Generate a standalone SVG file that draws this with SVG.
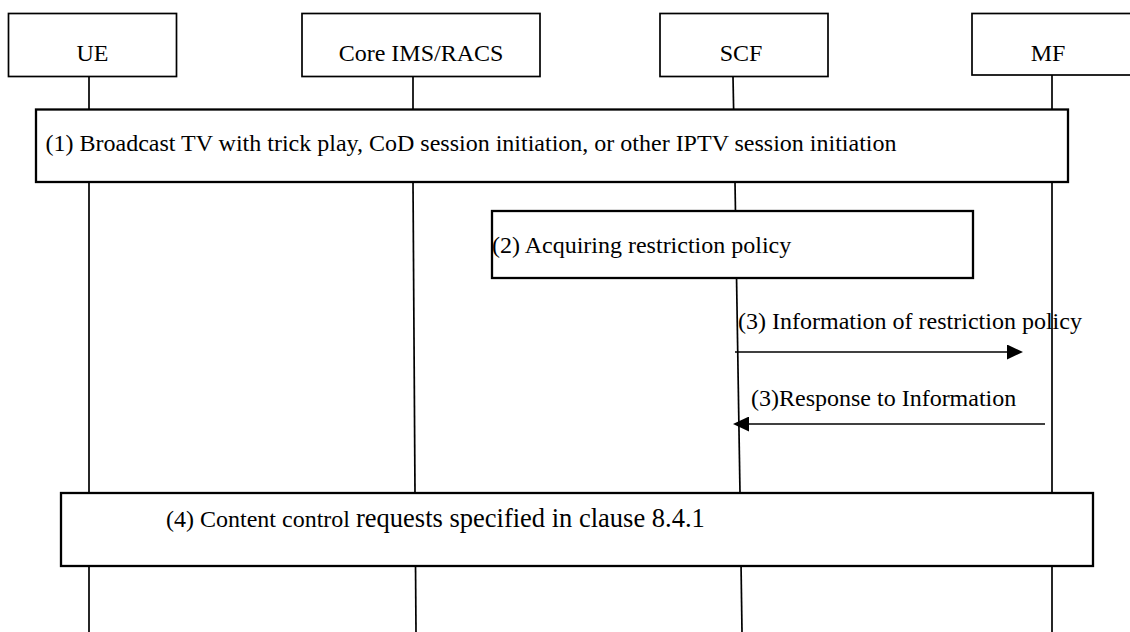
<svg xmlns="http://www.w3.org/2000/svg" width="1130" height="632" viewBox="0 0 1130 632">
  <style>
    text { font-family: "Liberation Serif", "Times New Roman", serif; font-size: 24px; fill: #000; }
    .hdr { fill: #fff; stroke: #000; stroke-width: 1.7; }
    .step { fill: #fff; stroke: #000; stroke-width: 2.3; }
    .life { stroke: #000; stroke-width: 1.7; fill: none; }
    .msg { stroke: #000; stroke-width: 1.7; fill: none; marker-end: url(#arr); }
    .mid { text-anchor: middle; }
  </style>
  <defs>
    <marker id="arr" markerUnits="userSpaceOnUse" markerWidth="16" markerHeight="15" refX="3" refY="7.5" orient="auto">
      <path d="M0,0 L16,7.5 L0,15 Z" fill="#000"/>
    </marker>
  </defs>
  <rect width="1130" height="632" fill="#fff"/>

  <g id="connectors">
    <!-- lifelines -->
    <line class="life" x1="89" y1="77" x2="89" y2="632"/>
    <line class="life" x1="413" y1="77" x2="413" y2="182"/>
    <line class="life" x1="413" y1="182" x2="415" y2="493"/>
    <line class="life" x1="415" y1="493" x2="416" y2="632"/>
    <line class="life" x1="733" y1="77" x2="735" y2="182"/>
    <line class="life" x1="735" y1="182" x2="740" y2="493"/>
    <line class="life" x1="740" y1="493" x2="742" y2="632"/>
    <line class="life" x1="1052" y1="75" x2="1052" y2="632"/>
    <!-- messages -->
    <line id="msg3a" class="msg" x1="735" y1="352" x2="1010" y2="352"/>
    <line id="msg3b" class="msg" x1="1045" y1="424" x2="746" y2="424"/>
    <text x="738" y="329">(3) Information of restriction policy</text>
    <text x="751" y="406">(3)Response to Information</text>
  </g>

  <g id="node-ue">
    <rect class="hdr" x="8.5" y="13.5" width="168" height="63"/>
    <text class="mid" x="92.5" y="61">UE</text>
  </g>
  <g id="node-core">
    <rect class="hdr" x="302" y="13.5" width="238" height="63"/>
    <text class="mid" x="421" y="61">Core IMS/RACS</text>
  </g>
  <g id="node-scf">
    <rect class="hdr" x="660" y="13.5" width="168" height="63"/>
    <text class="mid" x="741" y="61">SCF</text>
  </g>
  <g id="node-mf">
    <rect class="hdr" x="972" y="13.5" width="170" height="61.5"/>
    <text class="mid" x="1048" y="61">MF</text>
  </g>

  <g id="step1">
    <rect class="step" x="36" y="109.5" width="1032" height="72.5"/>
    <text x="45.5" y="151">(1) Broadcast TV with trick play, CoD session initiation, or other IPTV session initiation</text>
  </g>
  <g id="step2">
    <rect class="step" x="492" y="211" width="481" height="67"/>
    <text x="492" y="253">(2) Acquiring restriction policy</text>
  </g>
  <g id="step4">
    <rect class="step" x="61" y="493" width="1032" height="73"/>
    <text x="166" y="527">(4) Content control <tspan font-size="26.5">requests specified in clause 8.4.1</tspan></text>
  </g>
</svg>
